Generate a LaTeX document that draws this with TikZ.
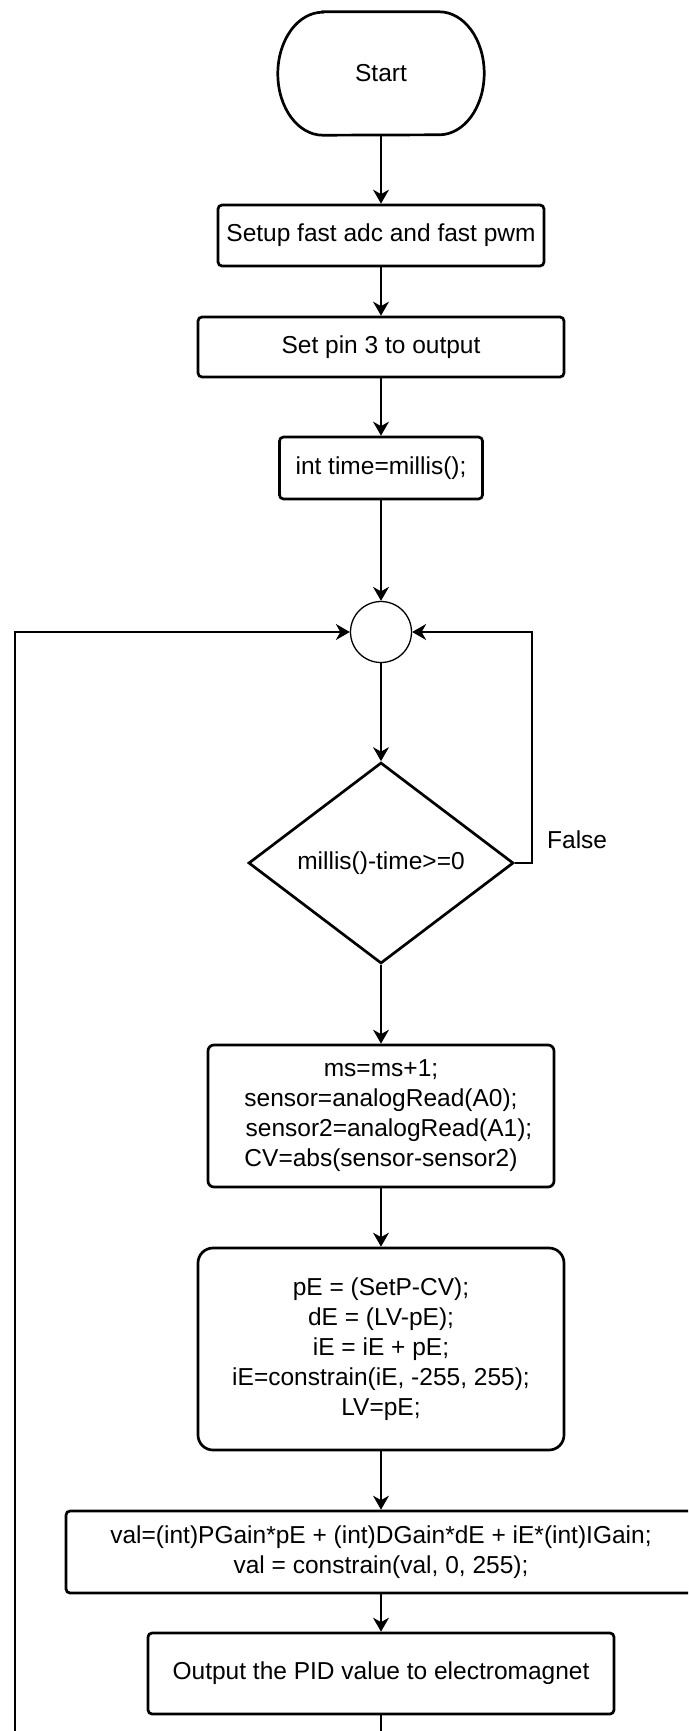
\documentclass[tikz,border=0pt]{standalone}
\usepackage{fontspec}
\setmainfont{Liberation Sans}
\usetikzlibrary{shapes.geometric,arrows.meta}
\begin{document}
\begin{tikzpicture}[x=1pt,y=-1pt,
  txt/.style={font=\fontsize{24.5}{30}\selectfont,align=center,inner sep=0pt},
  box/.style={txt,draw,line width=2.7pt,rounded corners=4pt},
  conn/.style={line width=1.5pt,-{Stealth[length=14pt,width=16pt,inset=4.5pt]}},
  plain/.style={line width=1.5pt}]
\useasboundingbox (0,0) rectangle (688,1731);
\clip (0,0) rectangle (688,1731);
% Start terminator
\node[txt,minimum width=206pt,minimum height=123pt] (start) at (381,73.5) {Start};
\draw[line width=2.7pt] ([xshift=45pt]start.north west) -- ([xshift=-45pt]start.north east)
  arc[start angle=90,end angle=-90,x radius=45pt,y radius=61.5pt]
  -- ([xshift=45pt]start.south west)
  arc[start angle=270,end angle=90,x radius=45pt,y radius=61.5pt] -- cycle;
\node[box,minimum width=326pt,minimum height=61pt] (setup) at (381,235.5) {Setup fast adc and fast pwm};
\node[box,minimum width=366pt,minimum height=60pt] (pin) at (381,347) {Set pin 3 to output};
\node[box,minimum width=203pt,minimum height=62pt] (time) at (381,468) {int time=millis();};
\node[circle,draw,line width=1.3pt,minimum size=61pt,inner sep=0pt] (join) at (381,632) {};
\node[txt,diamond,draw,line width=2.7pt,minimum width=265pt,minimum height=201pt] (dec) at (381,863) {millis()-time>=0};
\node[txt,anchor=base west] (false) at (547,848.5) {False};
\node[box,rounded corners=6pt,minimum width=346pt,minimum height=142pt] (read) at (381,1116)
  {ms=ms+1;\\ sensor=analogRead(A0);\\ \hspace*{16pt}sensor2=analogRead(A1);\\ CV=abs(sensor-sensor2)};
\node[box,rounded corners=15pt,minimum width=366pt,minimum height=202pt] (pid) at (381,1349)
  {pE = (SetP-CV);\\ dE = (LV-pE);\\ iE = iE + pE;\\ iE=constrain(iE, -255, 255);\\ LV=pE;};
\node[box,minimum width=630pt,minimum height=82pt] (val) at (381,1552)
  {val=(int)PGain*pE + (int)DGain*dE + iE*(int)IGain;\\ val = constrain(val, 0, 255);};
\node[box,minimum width=466pt,minimum height=81pt] (out) at (381,1673.5) {Output the PID value to electromagnet};
% connectors
\coordinate (fr) at (532,863);
\coordinate (lb) at (15,1731);
\coordinate (ob) at (381,1731);
\draw[conn] (start) -- (setup);
\draw[conn] (setup) -- (pin);
\draw[conn] (pin) -- (time);
\draw[conn] (time) -- (join);
\draw[conn] (join) -- (dec);
\draw[conn] (dec.east) -- (fr) |- (join.east);
\draw[conn] (lb) |- (join.west);
\draw[conn] (dec) -- (read);
\draw[conn] (read) -- (pid);
\draw[conn] (pid) -- (val);
\draw[conn] (val) -- (out);
\draw[plain] (out) -- (ob);
\end{tikzpicture}
\end{document}
